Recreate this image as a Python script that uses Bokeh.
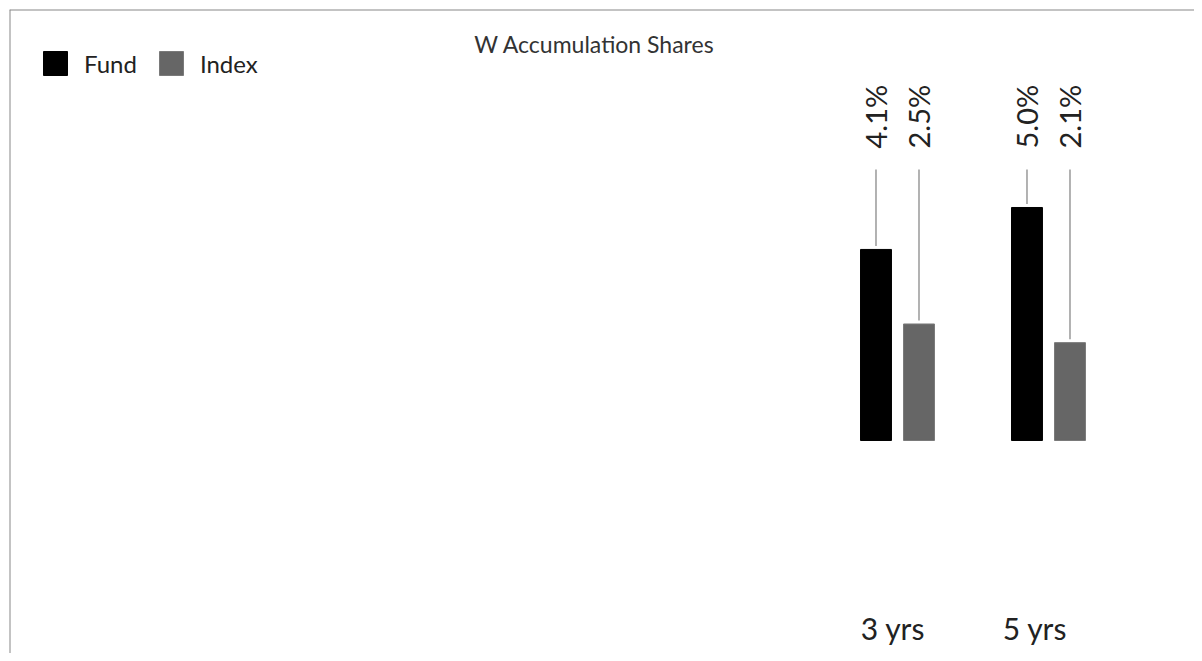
import math
from bokeh.plotting import figure
from bokeh.models import ColumnDataSource, Legend, LegendItem, Label, Range1d, Span
from bokeh.core.properties import value
from bokeh.transform import dodge
from bokeh.embed import file_html
from bokeh.resources import INLINE

# ---- data ----
categories = ["3 yrs", "5 yrs"]
fund = [4.1, 5.0]
index = [2.5, 2.1]
fund_labels = ["4.1%", "5.0%"]
index_labels = ["2.5%", "2.1%"]
series_names = ["Fund", "Index"]
title_text = "W Accumulation Shares"

# ---- styling / layout constants ----
FONT = "Lato"
FUND_COLOR = "#000000"
INDEX_COLOR = "#666666"
LEADER_COLOR = "#999999"
BORDER_COLOR = "#888888"
OFFSET = 0.1424
BAR_W = 0.205
GAP = 0.075          # gap between leader line and bar top (data units)
LEADER_TOP = 5.815   # top end of leader lines
LABEL_Y = 6.266      # start of rotated value labels
CAT_Y = -4.034       # baseline of category labels
cat_label_dx = [-4.5, -13.5]  # pixel nudges of category labels

xs = list(range(len(categories)))
src = ColumnDataSource(dict(
    x=xs, cat=categories, fund=fund, index=index,
    fund_lab=fund_labels, index_lab=index_labels,
    fund_l0=[v + GAP for v in fund], index_l0=[v + GAP for v in index],
    top=[LEADER_TOP] * len(xs), lab_y=[LABEL_Y] * len(xs), cat_y=[CAT_Y] * len(xs),
    cat_dx=cat_label_dx,
))

W, H = 1194, 653
x_start, x_end = -5.881, 1.967
y_start, y_end = -4.571, 9.249
p = figure(width=W, height=H, output_backend="svg", toolbar_location=None,
           x_range=Range1d(x_start, x_end), y_range=Range1d(y_start, y_end),
           x_axis_location=None, y_axis_location=None,
           min_border_left=9, min_border_top=9, min_border_right=0, min_border_bottom=0)
p.grid.visible = False
p.outline_line_color = None
p.border_fill_color = "white"
p.background_fill_color = "white"

# frame border (top and left only, as in the reference)
p.add_layout(Span(location=x_start, dimension="height", line_color=BORDER_COLOR, line_width=2))
p.add_layout(Span(location=y_end, dimension="width", line_color=BORDER_COLOR, line_width=2))

r_fund = p.vbar(x=dodge("x", -OFFSET, range=p.x_range), top="fund", bottom=0, width=BAR_W,
                source=src, fill_color=FUND_COLOR, line_color=FUND_COLOR)
r_index = p.vbar(x=dodge("x", OFFSET, range=p.x_range), top="index", bottom=0, width=BAR_W,
                 source=src, fill_color=INDEX_COLOR, line_color="#7a7a7a")

# leader lines
p.segment(x0=dodge("x", -OFFSET, range=p.x_range), x1=dodge("x", -OFFSET, range=p.x_range),
          y0="fund_l0", y1="top", source=src, line_color=LEADER_COLOR, line_width=1.5)
p.segment(x0=dodge("x", OFFSET, range=p.x_range), x1=dodge("x", OFFSET, range=p.x_range),
          y0="index_l0", y1="top", source=src, line_color=LEADER_COLOR, line_width=1.5)

# rotated value labels
for col, off in (("fund_lab", -OFFSET), ("index_lab", OFFSET)):
    p.text(x=dodge("x", off, range=p.x_range), y="lab_y", text=col, source=src,
           angle=math.pi / 2, text_align="left", text_baseline="middle",
           text_font=value(FONT), text_font_size="29px", text_color="#222222")

# category labels
p.text(x="x", y="cat_y", text="cat", source=src, x_offset="cat_dx",
       text_align="center", text_baseline="alphabetic",
       text_font=value(FONT), text_font_size="30px", text_color="#222222")

# title
p.add_layout(Label(x=-2.007, y=8.498, text=title_text, text_align="center",
                   text_baseline="alphabetic", text_font=FONT, text_font_size="23px",
                   text_color="#333333"))

legend = Legend(items=[LegendItem(label=series_names[0], renderers=[r_fund]),
                       LegendItem(label=series_names[1], renderers=[r_index])],
                orientation="horizontal", location=(31, 575),
                glyph_width=30, glyph_height=30, label_height=30,
                label_text_font=FONT, label_text_font_size="24px", label_text_color="#222222",
                label_standoff=14, spacing=19, padding=0, margin=0,
                border_line_color=None, background_fill_alpha=0)
p.add_layout(legend)

open("out.html", "w").write(file_html(p, INLINE))
